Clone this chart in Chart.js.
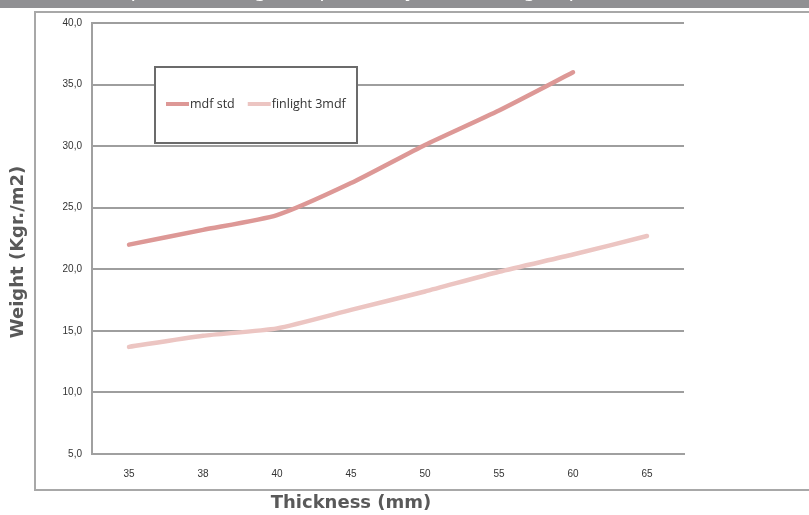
<!DOCTYPE html>
<html>
<head>
<meta charset="utf-8">
<script src="https://cdn.jsdelivr.net/npm/chart.js@4"></script>
<style>
  body { margin: 0; background: #fff; }
  canvas { display: block; }
</style>
</head>
<body>
<canvas id="chart" width="809" height="515"></canvas>
<script>
const thickness = ["35", "38", "40", "45", "50", "55", "60", "65"];
const mdfStd = [22.0, 23.2, 24.4, 27.0, 30.1, 32.9, 36.0, null];
const finlight3mdf = [13.7, 14.6, 15.2, 16.7, 18.2, 19.8, 21.2, 22.7];
const seriesNames = ["mdf std", "finlight 3mdf"];
const seriesColors = ["#dd9896", "#ecc5c2"];
const yTitle = "Weight (Kgr./m2)";
const xTitle = "Thickness (mm)";
const topTitle = "Comparative weight of panels by thickness group";

const frame = {
  id: "frame",
  beforeDraw(chart) {
    const c = chart.ctx;
    c.save();
    c.fillStyle = "#fff";
    c.fillRect(0, 0, chart.width, chart.height);
    // grey header bar, title sits above the canvas so only its foot shows
    c.fillStyle = "#909093";
    c.fillRect(0, 0, chart.width, 8);
    c.beginPath();
    c.rect(0, 0, chart.width, 8);
    c.clip();
    c.fillStyle = "#fff";
    c.font = "20px 'DejaVu Sans'";
    c.textAlign = "center";
    c.textBaseline = "alphabetic";
    c.fillText(topTitle, 333, -3);
    c.restore();
    // outer frame
    c.save();
    c.strokeStyle = "#a8a8a8";
    c.lineWidth = 2;
    c.beginPath();
    c.moveTo(chart.width, 12);
    c.lineTo(35, 12);
    c.lineTo(35, 490);
    c.lineTo(chart.width, 490);
    c.stroke();
    c.restore();
  },
  afterDraw(chart) {
    const c = chart.ctx;
    c.save();
    // axis titles
    c.fillStyle = "#595959";
    c.font = "bold 18px 'DejaVu Sans'";
    c.textAlign = "center";
    c.textBaseline = "middle";
    c.fillText(xTitle, 351, 503);
    c.translate(18, 252);
    c.rotate(-Math.PI / 2);
    c.fillText(yTitle, 0, 0);
    c.restore();

    // legend box
    c.save();
    c.fillStyle = "#fff";
    c.fillRect(155, 67, 202, 76);
    c.strokeStyle = "#6b6b6b";
    c.lineWidth = 2;
    c.strokeRect(155, 67, 202, 76);
    c.font = "12.5px 'Open Sans'";
    c.textBaseline = "middle";
    c.textAlign = "left";
    let x = 166;
    chart.data.datasets.forEach(ds => {
      c.strokeStyle = ds.borderColor;
      c.lineWidth = 4;
      c.beginPath();
      c.moveTo(x, 104);
      c.lineTo(x + 23, 104);
      c.stroke();
      c.fillStyle = "#333";
      c.fillText(ds.label, x + 24, 104);
      x += 24 + c.measureText(ds.label).width + 13;
    });
    c.restore();
  }
};

new Chart(document.getElementById("chart"), {
  type: "line",
  data: {
    labels: thickness,
    datasets: [
      { label: seriesNames[0], data: mdfStd, borderColor: seriesColors[0], backgroundColor: seriesColors[0] },
      { label: seriesNames[1], data: finlight3mdf, borderColor: seriesColors[1], backgroundColor: seriesColors[1] }
    ]
  },
  options: {
    responsive: false,
    animation: false,
    layout: { padding: { left: 0, top: 23, right: 125, bottom: 0 } },
    elements: {
      line: { borderWidth: 4.5, tension: 0.2, borderCapStyle: "round", fill: false },
      point: { radius: 0 }
    },
    plugins: { legend: { display: false }, tooltip: { enabled: false } },
    scales: {
      x: {
        offset: true,
        grid: { display: false },
        border: { color: "#a0a0a0", width: 2 },
        ticks: { font: { family: "'Liberation Sans'", size: 10 }, color: "#333", padding: 6, maxRotation: 0 },
        afterFit(s) { s.height = 61; }
      },
      y: {
        min: 5,
        max: 40,
        ticks: {
          stepSize: 5,
          font: { family: "'Liberation Sans'", size: 10 },
          color: "#333",
          padding: 10,
          callback: v => v.toFixed(1).replace(".", ",")
        },
        grid: { color: "#9e9e9e", lineWidth: 2, drawTicks: false },
        border: { color: "#a0a0a0", width: 2 },
        afterFit(s) { s.width = 92; }
      }
    }
  },
  plugins: [frame]
});
</script>
</body>
</html>
